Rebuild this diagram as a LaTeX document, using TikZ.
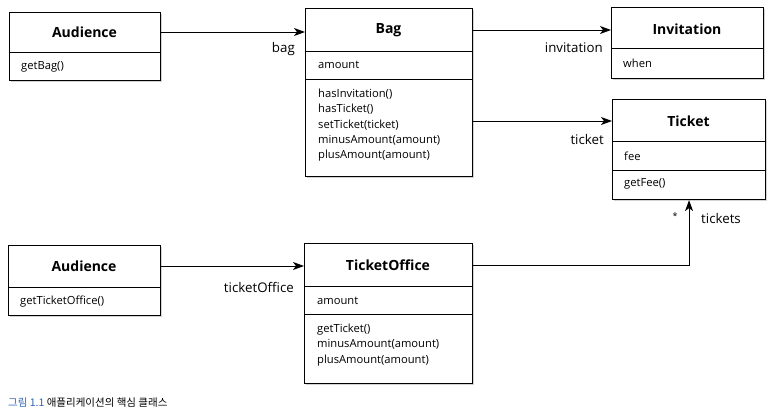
\documentclass[tikz,border=0pt]{standalone}
\usepackage{fontspec}
\setmainfont{Open Sans}
\newfontfamily\krfont{Noto Sans CJK KR}
\usetikzlibrary{shadows,arrows.meta}
\definecolor{capblue}{HTML}{2F63B5}
\begin{document}
\begin{tikzpicture}[x=1pt,y=-1pt,
  cls/.style={draw, line width=1.1pt, fill=white, inner sep=0pt, anchor=north west,
    drop shadow={shadow xshift=1.2pt, shadow yshift=-1.6pt, opacity=0.35}},
  sep/.style={line width=0.8pt},
  ttl/.style={font=\fontsize{14}{16}\selectfont\bfseries, inner sep=0pt},
  mem/.style={font=\fontsize{11.2}{15.2}\selectfont, anchor=west, align=left, inner sep=0pt},
  lbl/.style={font=\fontsize{13.3}{15}\selectfont, inner sep=0pt},
  assoc/.style={-{Stealth[length=11pt,width=8pt,inset=3pt]}, line width=1pt}]

\useasboundingbox (0,0) rectangle (772,415);

% --- Audience (bag) ---
\node[cls, minimum width=151pt, minimum height=68pt] (aud1) at (9,12) {};
\draw[sep] (9,52) -- (160,52);
\node[ttl] (aud1t) at (84.5,32) {Audience};
\node[mem] (aud1m) at (21,67) {getBag()};

% --- Bag ---
\node[cls, minimum width=167pt, minimum height=168pt] (bag) at (305,8) {};
\draw[sep] (305,51) -- (472,51);
\draw[sep] (305,79) -- (472,79);
\node[ttl] (bagt) at (388.5,30) {Bag};
\node[mem] (baga) at (318,65) {amount};
\node[mem, anchor=north west] (bagm) at (318,89) {hasInvitation()\\hasTicket()\\setTicket(ticket)\\minusAmount(amount)\\plusAmount(amount)};

% --- Invitation ---
\node[cls, minimum width=152pt, minimum height=71pt] (inv) at (611,7) {};
\draw[sep] (611,48) -- (763,48);
\node[ttl] (invt) at (687,29) {Invitation};
\node[mem] (inva) at (623,63) {when};

% --- Ticket ---
\node[cls, minimum width=153pt, minimum height=100pt] (tick) at (612,99) {};
\draw[sep] (612,141) -- (765,141);
\draw[sep] (612,170) -- (765,170);
\node[ttl] (tickt) at (688.5,121) {Ticket};
\node[mem] (ticka) at (624,156) {fee};
\node[mem] (tickm) at (624,184) {getFee()};

% --- Audience (ticketOffice) ---
\node[cls, minimum width=152pt, minimum height=70pt] (aud2) at (8,245) {};
\draw[sep] (8,287) -- (160,287);
\node[ttl] (aud2t) at (84,266) {Audience};
\node[mem] (aud2m) at (20,302) {getTicketOffice()};

% --- TicketOffice ---
\node[cls, minimum width=168pt, minimum height=140pt] (to) at (304,243) {};
\draw[sep] (304,286) -- (472,286);
\draw[sep] (304,314) -- (472,314);
\node[ttl] (tot) at (388,265) {TicketOffice};
\node[mem] (toa) at (317,301) {amount};
\node[mem, anchor=north west] (tom) at (317,324) {getTicket()\\minusAmount(amount)\\plusAmount(amount)};

% --- associations ---
\draw[assoc] (aud1t -| aud1.east) -- (aud1t -| bag.west);
\node[lbl, anchor=east] (lbag) at (295,49) {bag};

\draw[assoc] (bagt -| bag.east) -- (bagt -| inv.west);
\node[lbl, anchor=east] (linv) at (603,48) {invitation};

\draw[assoc] (tickt -| bag.east) -- (tickt -| tick.west);
\node[lbl, anchor=east] (ltick) at (604,140) {ticket};

\draw[assoc] (aud2t -| aud2.east) -- (aud2t -| to.west);
\node[lbl, anchor=east] (lto) at (294,287) {ticketOffice};

\draw[assoc] (tot -| to.east) -| (tick.south);
\node[lbl, font=\fontsize{9}{10}\selectfont] (lmul) at (675,216) {*};
\node[lbl, anchor=west] (ltks) at (701,219) {tickets};

% --- caption ---
\node[anchor=west, inner sep=0pt, font=\krfont\fontsize{10.5}{12}\selectfont] (cap) at (8,403)
  {\textcolor{capblue}{그림 1.1} 애플리케이션의 핵심 클래스};
\end{tikzpicture}
\end{document}
